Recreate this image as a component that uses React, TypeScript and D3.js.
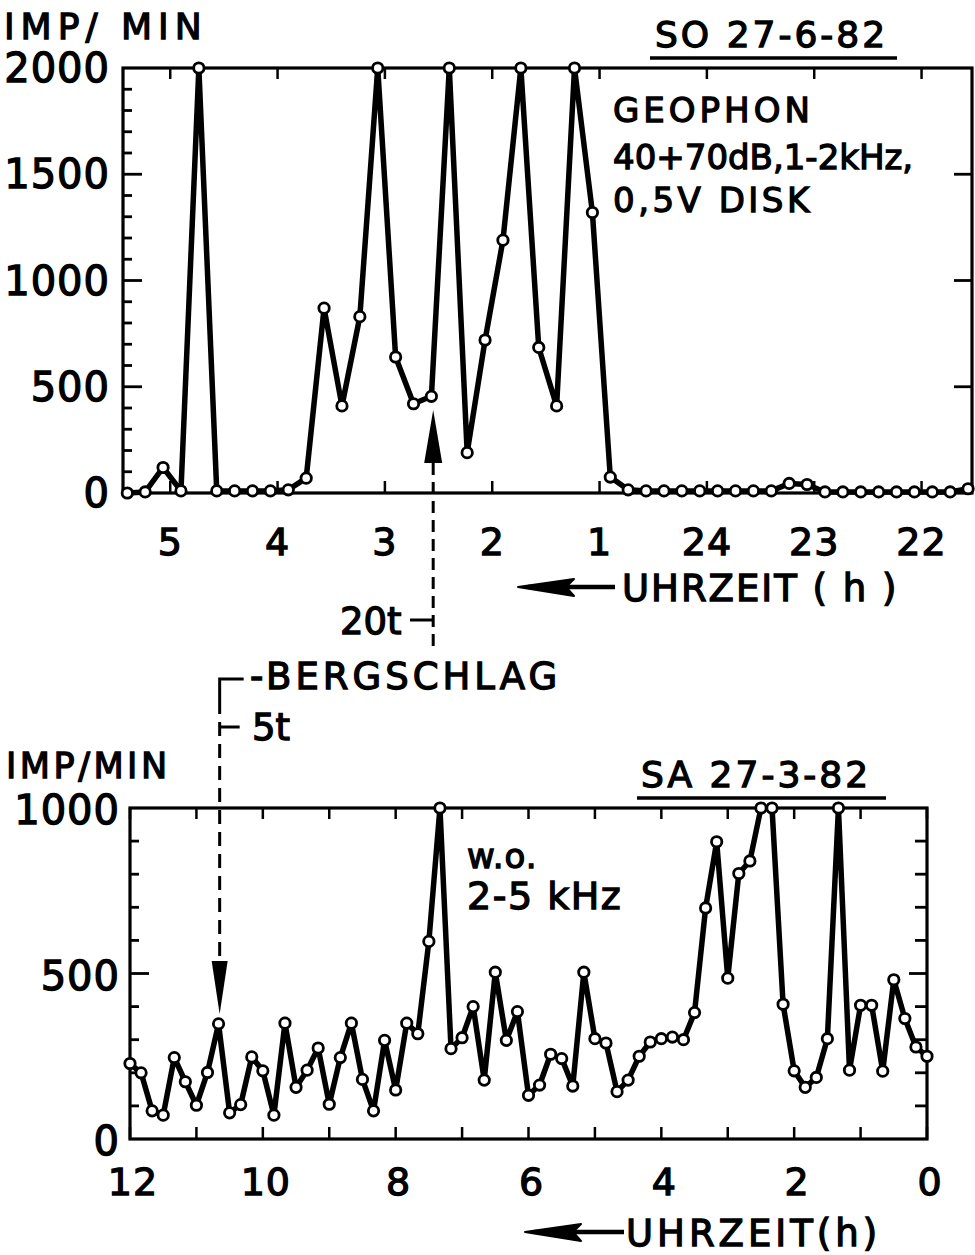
import React from 'react';
import * as d3 from 'd3';

// ---------- DATA ----------
// Top panel: SO 27-6-82, 10-minute samples, starting 5.4 h going backwards to ~21.6 h (24 = 0)
const topStartHour = 5.4;
const topValues = [
  0, 5, 120, 10, 2000, 10, 10, 10, 10, 15,
  70, 870, 410, 830, 2000, 640, 420, 455, 2000, 190,
  720, 1190, 2000, 685, 410, 2000, 1320, 75, 15, 10,
  10, 10, 10, 10, 10, 10, 10, 45, 40, 5,
  5, 5, 5, 5, 5, 5, 5, 20,
];
const topHourTicks = [5, 4, 3, 2, 1, 0, -1, -2];
const topHourLabels = ['5', '4', '3', '2', '1', '24', '23', '22'];
const topYTickLabels = [0, 500, 1000, 1500, 2000];

// Bottom panel: SA 27-3-82, 10-minute samples from 12 h to 0 h
const bottomStartHour = 12;
const bottomValues = [
  228, 200, 85, 72, 246, 173, 102, 201, 348, 79,
  104, 248, 206, 72, 350, 156, 208, 275, 105, 246,
  350, 180, 85, 298, 148, 350, 318, 597, 1000, 273,
  306, 400, 178, 504, 298, 385, 132, 163, 256, 243,
  160, 504, 303, 290, 143, 178, 250, 293, 303, 308,
  300, 382, 698, 898, 486, 802, 840, 1000, 1000, 407,
  206, 156, 186, 303, 1000, 208, 404, 404, 205, 481,
  364, 278, 250,
];
const bottomHourTicks = [12, 11, 10, 9, 8, 7, 6, 5, 4, 3, 2, 1, 0];
const bottomHourLabels = [12, 10, 8, 6, 4, 2, 0];
const bottomYTickLabels = [0, 500, 1000];

// Event markers (hours)
const topEventHour = 2.55;
const bottomEventHour = 10.65;

// ---------- LAYOUT ----------
const W = 975;
const H = 1255;
const FONT = "'DejaVu Sans', sans-serif";
const topBox = { left: 123, right: 972, top: 68, bottom: 493 };
const botBox = { left: 130, right: 927, top: 808, bottom: 1139 };

const topX = d3.scaleLinear().domain([5.44, -2.47]).range([topBox.left, topBox.right]);
const topY = d3.scaleLinear().domain([0, 2000]).range([topBox.bottom, topBox.top]);
const botX = d3.scaleLinear().domain([12, 0]).range([botBox.left, botBox.right]);
const botY = d3.scaleLinear().domain([0, 1000]).range([botBox.bottom, botBox.top]);

type Pt = { t: number; v: number };
const topPts: Pt[] = topValues.map((v, i) => ({ t: topStartHour - i / 6, v }));
const botPts: Pt[] = bottomValues.map((v, i) => ({ t: bottomStartHour - i / 6, v }));

function Txt(props: {
  x: number; y: number; children: React.ReactNode; size?: number;
  anchor?: 'start' | 'middle' | 'end'; ls?: number;
}) {
  const { x, y, children, size = 38, anchor = 'start', ls = 0 } = props;
  return (
    <text
      x={x}
      y={y}
      fontFamily={FONT}
      fontSize={size}
      textAnchor={anchor}
      letterSpacing={ls}
      fill="#000"
      stroke="#000"
      strokeWidth={1.3}
    >
      {children}
    </text>
  );
}

function Panel(props: {
  box: typeof topBox;
  x: d3.ScaleLinear<number, number>;
  y: d3.ScaleLinear<number, number>;
  pts: Pt[];
  hourTicks: number[];
  minorStep: number;
  yMax: number;
  rightMinor: boolean;
}) {
  const { box, x, y, pts, hourTicks, minorStep, yMax, rightMinor } = props;
  const line = d3
    .line<Pt>()
    .x((d) => x(d.t))
    .y((d) => y(d.v));
  const minor = d3.range(minorStep, yMax, minorStep);
  return (
    <g>
      <rect
        x={box.left}
        y={box.top}
        width={box.right - box.left}
        height={box.bottom - box.top}
        fill="none"
        stroke="#000"
        strokeWidth={3.2}
      />
      {hourTicks.map((h) => (
        <g key={'h' + h}>
          <line x1={x(h)} x2={x(h)} y1={box.top} y2={box.top + 11} stroke="#000" strokeWidth={2.5} />
          <line x1={x(h)} x2={x(h)} y1={box.bottom} y2={box.bottom - 12} stroke="#000" strokeWidth={2.5} />
        </g>
      ))}
      {minor.map((v) => {
        const major = v % 500 === 0;
        return (
          <g key={'m' + v}>
            <line
              x1={box.left}
              x2={box.left + (major ? 19 : 9)}
              y1={y(v)}
              y2={y(v)}
              stroke="#000"
              strokeWidth={2.8}
            />
            {(rightMinor || major) && (
              <line
                x1={box.right}
                x2={box.right - (major ? 18 : 12)}
                y1={y(v)}
                y2={y(v)}
                stroke="#000"
                strokeWidth={2.8}
              />
            )}
          </g>
        );
      })}
      <path d={line(pts) || ''} fill="none" stroke="#000" strokeWidth={5.5} strokeLinejoin="round" />
      {pts.map((d, i) => (
        <circle key={i} cx={x(d.t)} cy={y(d.v)} r={5.2} fill="#fff" stroke="#000" strokeWidth={2.8} />
      ))}
    </g>
  );
}

function LeftArrow(props: { tipX: number; endX: number; y: number }) {
  const { tipX, endX, y } = props;
  return (
    <g>
      <line x1={tipX + 10} x2={endX} y1={y} y2={y} stroke="#000" strokeWidth={4.5} />
      <path
        d={`M${tipX},${y} L${tipX + 56},${y - 8} L${tipX + 48},${y} L${tipX + 56},${y + 9} Z`}
        fill="#000"
        stroke="#000"
        strokeWidth={2}
        strokeLinejoin="round"
      />
    </g>
  );
}

export default function App() {
  const topArrowX = topX(topEventHour);
  const botArrowX = botX(bottomEventHour);
  return (
    <svg
      width={W}
      height={H}
      viewBox={`0 0 ${W} ${H}`}
      style={{ position: 'absolute', left: 0, top: 0, background: '#fff' }}
    >
      <rect x={0} y={0} width={W} height={H} fill="#fff" />

      {/* ---------- TOP PANEL ---------- */}
      <Txt x={4} y={39} size={36} ls={6}>IMP/ MIN</Txt>
      <Txt x={655} y={47} size={36} ls={3}>SO 27-6-82</Txt>
      <line x1={650} x2={897} y1={58} y2={58} stroke="#000" strokeWidth={3.5} />

      {topYTickLabels.map((v) => (
        <Txt key={'ty' + v} x={110} y={topY(v) + 14} size={40} anchor="end" ls={1}>
          {String(v)}
        </Txt>
      ))}

      <Panel
        box={topBox}
        x={topX}
        y={topY}
        pts={topPts}
        hourTicks={topHourTicks}
        minorStep={100}
        yMax={2000}
        rightMinor={false}
      />

      {topHourTicks.map((h, i) => (
        <Txt key={'tx' + h} x={topX(h)} y={555} size={38} anchor="middle" ls={1}>
          {topHourLabels[i]}
        </Txt>
      ))}

      <Txt x={613} y={122} size={34} ls={4}>GEOPHON</Txt>
      <Txt x={613} y={169} size={34} ls={0}>40+70dB,1-2kHz,</Txt>
      <Txt x={613} y={212} size={34} ls={3.5}>0,5V DISK</Txt>

      <LeftArrow tipX={518} endX={615} y={587} />
      <Txt x={622} y={601} size={37} ls={2}>UHRZEIT ( h )</Txt>

      {/* event arrow top */}
      <path
        d={`M${topArrowX},410 L${topArrowX - 9},463 L${topArrowX + 9},463 Z`}
        fill="#000"
      />
      <line
        x1={topArrowX}
        x2={topArrowX}
        y1={463}
        y2={652}
        stroke="#000"
        strokeWidth={3}
        strokeDasharray="12 7"
      />
      <line x1={410} x2={topArrowX} y1={620} y2={620} stroke="#000" strokeWidth={3} />
      <Txt x={340} y={634} size={37} ls={0}>20t</Txt>

      {/* BERGSCHLAG */}
      <path d={`M${botArrowX + 24},679 L${botArrowX},679 L${botArrowX},700`} fill="none" stroke="#000" strokeWidth={3} />
      <Txt x={250} y={689} size={37} ls={4}>-BERGSCHLAG</Txt>
      <line x1={botArrowX} x2={botArrowX + 20} y1={727} y2={727} stroke="#000" strokeWidth={3} />
      <Txt x={252} y={740} size={37} ls={0}>5t</Txt>
      <line
        x1={botArrowX}
        x2={botArrowX}
        y1={700}
        y2={962}
        stroke="#000"
        strokeWidth={3}
        strokeDasharray="14 8"
      />
      <path
        d={`M${botArrowX},1014 L${botArrowX - 8},961 L${botArrowX + 8},961 Z`}
        fill="#000"
      />

      {/* ---------- BOTTOM PANEL ---------- */}
      <Txt x={6} y={778} size={35} ls={3.5}>IMP/MIN</Txt>
      <Txt x={641} y={787} size={36} ls={3}>SA 27-3-82</Txt>
      <line x1={637} x2={886} y1={798} y2={798} stroke="#000" strokeWidth={3.5} />

      {bottomYTickLabels.map((v) => (
        <Txt key={'by' + v} x={120} y={botY(v) + 16} size={40} anchor="end" ls={1}>
          {String(v)}
        </Txt>
      ))}

      <Panel
        box={botBox}
        x={botX}
        y={botY}
        pts={botPts}
        hourTicks={bottomHourTicks}
        minorStep={100}
        yMax={1000}
        rightMinor={true}
      />

      <Txt x={467} y={868} size={34} ls={1}>w.o.</Txt>
      <Txt x={467} y={909} size={38} ls={1.5}>2-5 kHz</Txt>

      {bottomHourLabels.map((h) => (
        <Txt key={'bx' + h} x={botX(h) + 3} y={1195} size={38} anchor="middle" ls={1}>
          {String(h)}
        </Txt>
      ))}

      <LeftArrow tipX={525} endX={624} y={1232} />
      <Txt x={626} y={1246} size={37} ls={4}>UHRZEIT(h)</Txt>
    </svg>
  );
}
